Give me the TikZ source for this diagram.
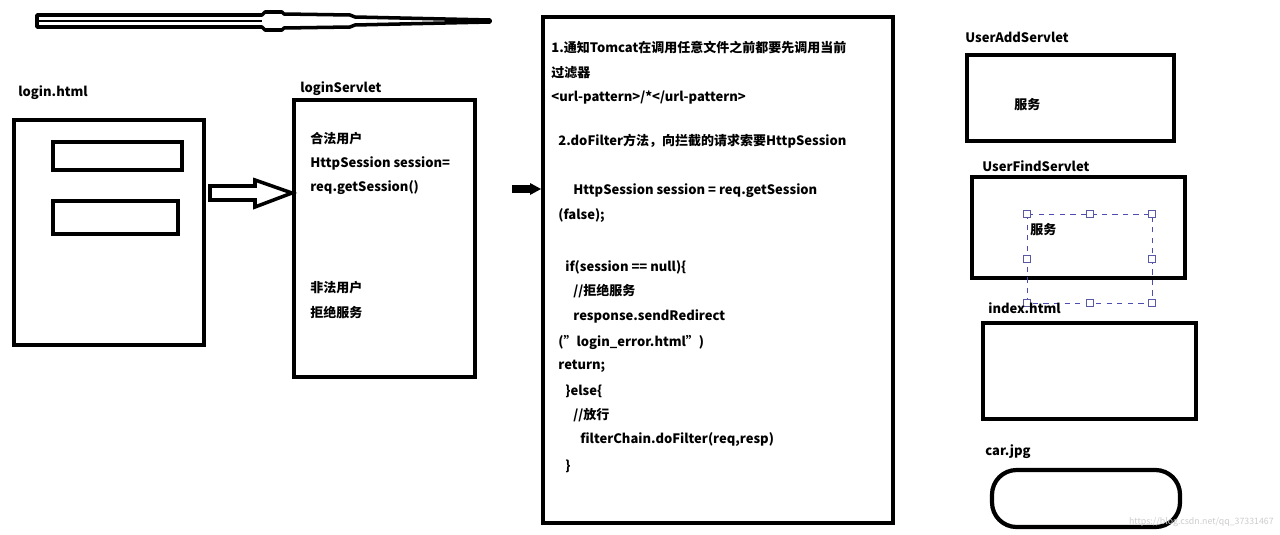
\documentclass[tikz,border=0pt]{standalone}
\usepackage{fontspec}
\setmainfont{Noto Sans CJK SC}
\usetikzlibrary{positioning}
\tikzstyle{every node}=[font=\fontsize{7.4}{9}\selectfont\bfseries,inner sep=0pt,anchor=west]
\tikzstyle{panel}=[draw,line width=2.4pt]
\tikzstyle{slot}=[draw,line width=2pt]
\tikzstyle{handle}=[draw=gray!70!blue,fill=white,line width=0.4pt,minimum size=4pt,inner sep=0pt]

\begin{document}
\begin{tikzpicture}[x=0.02cm,y=-0.02cm]
\useasboundingbox (0,0) rectangle (1280,534);
% top stroke
\draw[line width=2pt, line join=round]
  (37,15) -- (262,15) -- (265,12) -- (282,12) -- (284,14) -- (350,15) -- (355,17) -- (400,18)
   -- (490,20) -- (490,22) -- (400,24) -- (355,25) -- (350,27) -- (284,28) -- (282,30)
   -- (265,30) -- (262,27) -- (37,27) -- cycle;
\draw[line width=1.6pt] (37,21) -- (262,21);
% login page
\node (loginlbl) at (18,93) {login.html};
\draw[panel] (14,120) rectangle (204,345);
\draw[slot] (53,142) rectangle (182,170);
\draw[slot] (53,201) rectangle (178,234);
% hollow arrow
\draw[line width=2pt, line join=miter]
  (210,186) -- (255,186) -- (255,180) -- (292,193) -- (255,207) -- (255,200) -- (210,200) -- cycle;
% login servlet
\node (servletlbl) at (300,89) {loginServlet};
\draw[panel] (294,100) rectangle (475,377);
\node (legal) at (310,139) {合法用户};
\node (sess) at (310,163) {HttpSession session=};
\node (getsess) at (310,188) {req.getSession()};
\node (illegal) at (310,288) {非法用户};
\node (deny) at (310,313) {拒绝服务};
% small arrow
\draw[line width=5pt] (512,189) -- (532,189);
\fill (530,183) -- (541,189) -- (530,195) -- cycle;
% filter
\draw[panel] (543,17) rectangle (893,523);
\node (f1) at (551,47) {1.通知Tomcat在调用任意文件之前都要先调用当前};
\node (f2) at (551,73) {过滤器};
\node (f3) at (551,98) {<url-pattern>/*</url-pattern>};
\node (f4) at (558,141) {2.doFilter方法，向拦截的请求索要HttpSession};
\node (f5) at (573,191) {HttpSession session = req.getSession};
\node (f6) at (558,216) {(false);};
\node (f7) at (565,267) {if(session == null)\{};
\node (f8) at (573,291) {//拒绝服务};
\node (f9) at (573,316) {response.sendRedirect};
\node (f10) at (558,342) {(\symbol{34}login\_error.html\symbol{34})};
\node (f11) at (558,366) {return;};
\node (f12) at (565,391) {\}else\{};
\node (f13) at (573,415) {//放行};
\node (f14) at (580,440) {filterChain.doFilter(req,resp)};
\node (f15) at (565,466) {\}};
% right column
\node (addlbl) at (965,37) {UserAddServlet};
\draw[panel] (967,55) rectangle (1174,141);
\node (addsvc) at (1014,105) {服务};
\node (findlbl) at (982,166) {UserFindServlet};
\draw[panel] (972,177) rectangle (1185,278);
\node (findsvc) at (1030,230) {服务};
\draw[gray!60!blue,dashed,line width=0.5pt] (1027,214) rectangle (1152,303);
\foreach \hx/\hy in {1027/214,1090/214,1152/214,1027/259,1152/259,1027/303,1090/303,1152/303}
  \node[handle,anchor=center] at (\hx,\hy) {};
\node (indexlbl) at (988,308) {index.html};
\draw[panel] (983,323) rectangle (1196,419);
\node (carlbl) at (985,452) {car.jpg};
\draw[panel,rounded corners=14pt] (992,470) rectangle (1180,527);
\node[font=\fontsize{5}{6}\selectfont,text=gray!40,anchor=east] (mark) at (1274,522) {https://blog.csdn.net/qq\_37331467};
\end{tikzpicture}
\end{document}
